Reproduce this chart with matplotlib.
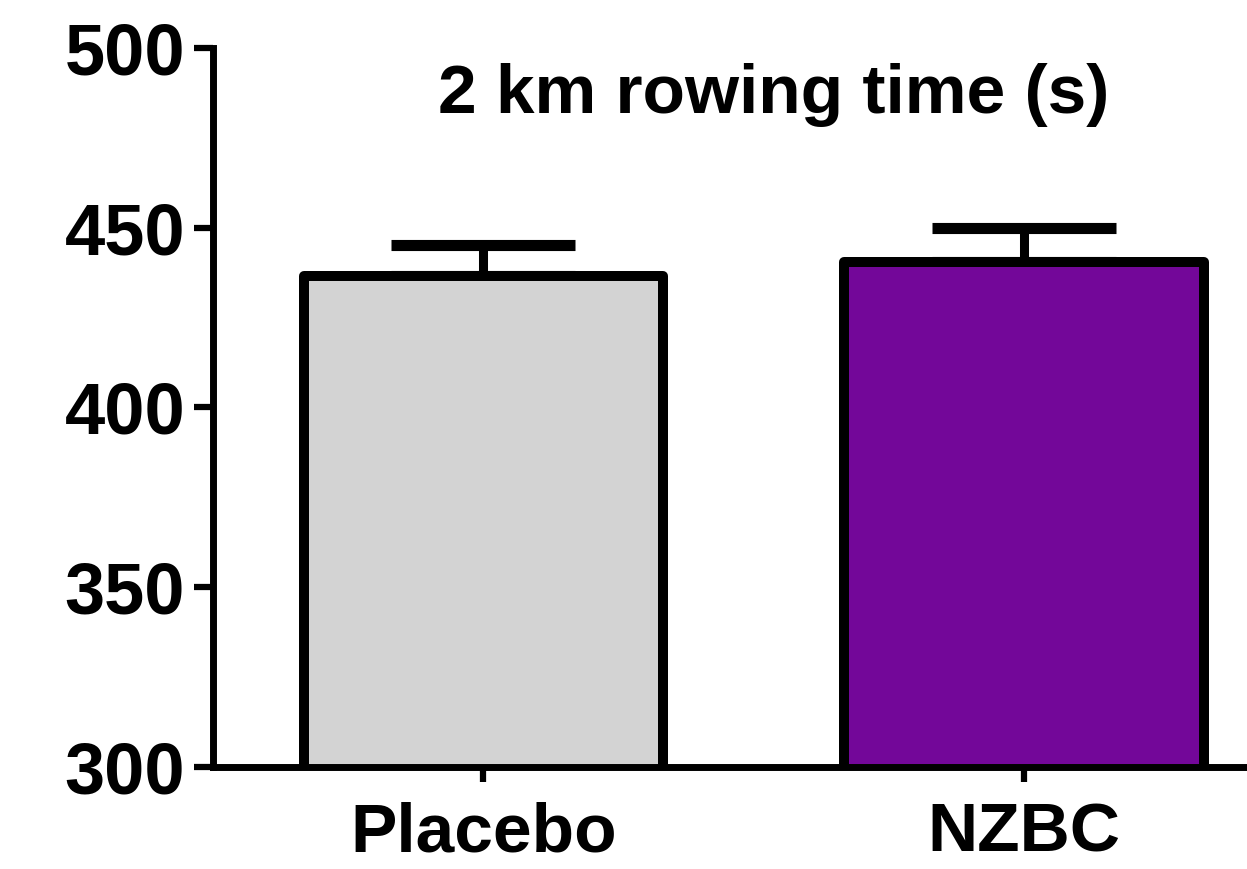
import matplotlib
matplotlib.use("Agg")
import matplotlib.pyplot as plt

categories = ["Placebo", "NZBC"]
means = [436.6, 440.6]
sems = [8.7, 9.2]
colors = ["#d3d3d3", "#730799"]
yticks = [300, 350, 400, 450, 500]
title = "2 km rowing time (s)"

plt.rcParams['font.family'] = ['Liberation Sans', 'DejaVu Sans']
plt.rcParams['font.weight'] = 'bold'

fig = plt.figure(figsize=(12.47, 8.69), dpi=100)
ax = fig.add_axes([0.1708, 0.1174, 0.8292, 0.8274])

x = list(range(len(categories)))
eb = ax.errorbar(x, means, yerr=[[0]*len(sems), sems], fmt='none', ecolor='black',
                 elinewidth=6.5, capsize=66, capthick=8, zorder=1)
for cap in eb[1]:
    cap.set_solid_capstyle('round')
bars = ax.bar(x, means, width=0.665, bottom=0, color=colors, edgecolor='black',
              linewidth=7.2, zorder=2)
for b in bars:
    b.set_joinstyle('round')

ax.set_ylim(300, 500)
ax.set_xlim(-0.5, 1.412)
ax.set_yticks(yticks)
ax.set_xticks(x)
ax.set_xticklabels(categories)
ax.spines['top'].set_visible(False)
ax.spines['right'].set_visible(False)
for s in ['left', 'bottom']:
    ax.spines[s].set_linewidth(5)
ax.tick_params(axis='y', length=14, width=4.5, pad=6, labelsize=52)
ax.tick_params(axis='x', length=11, width=4.5, pad=14, labelsize=50)
for lab in ax.get_xticklabels() + ax.get_yticklabels():
    lab.set_fontweight('bold')

ax.text(0.5426, 0.935, title, transform=ax.transAxes, ha='center', va='center',
        fontsize=50, fontweight='bold')

fig.savefig("out.png", dpi=100)
